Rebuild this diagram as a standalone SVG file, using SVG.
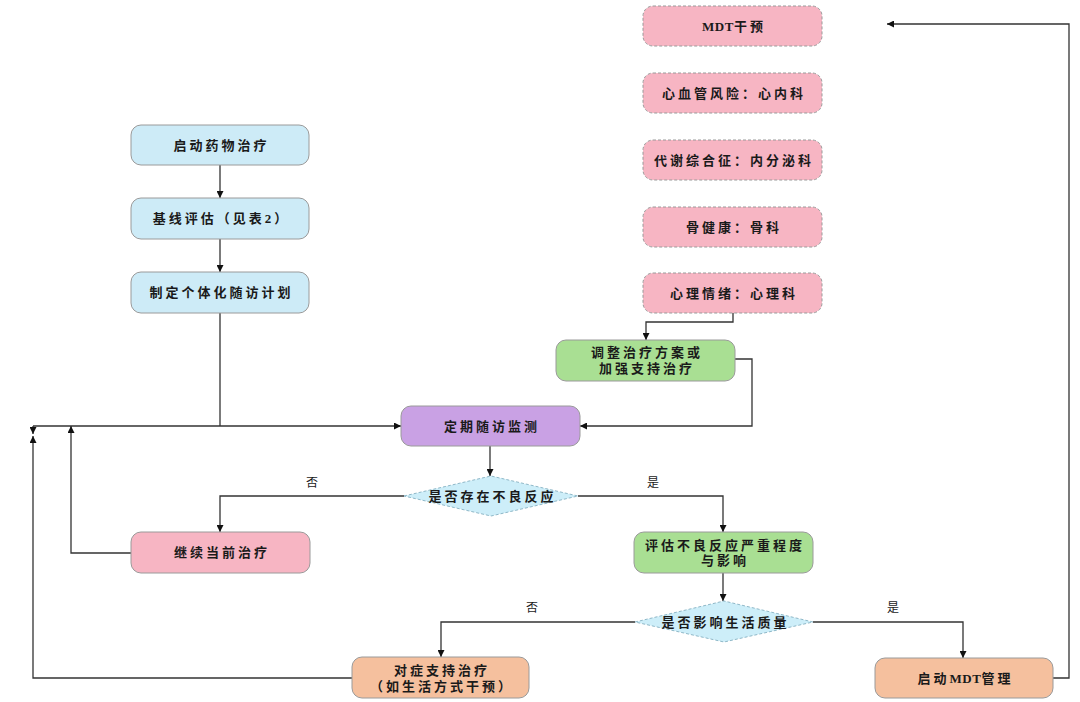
<svg xmlns="http://www.w3.org/2000/svg" width="1080" height="702" viewBox="0 0 1080 702">
<defs>
<style>
.box{stroke:#9a9a9a;stroke-width:1}
.dash{stroke-dasharray:3 2}
.blue{fill:#CDEBF7}
.pink{fill:#F7B5C3}
.purple{fill:#C9A1E4}
.green{fill:#A9DF93}
.orange{fill:#F5C09E}
.dia{fill:#CDEEF9;stroke:#8fb8c8;stroke-width:1;stroke-dasharray:3 2}
text{font-family:"Liberation Serif","Noto Sans CJK SC",serif;font-weight:700;font-size:13px;letter-spacing:3px;fill:#1a1a1a;text-anchor:middle;dominant-baseline:central}
.lat{letter-spacing:0.5px}
.lbl{font-weight:400;font-size:12px;letter-spacing:0}
.ln{fill:none;stroke:#333;stroke-width:1.3}
</style>
<marker id="ah" viewBox="0 0 10 10" refX="10" refY="5" markerWidth="7" markerHeight="7" orient="auto" markerUnits="userSpaceOnUse">
<path d="M0,0 L10,5 L0,10 z" fill="#111"/>
</marker>
</defs>
<rect width="1080" height="702" fill="#fff"/>

<g id="connectors">
<path class="ln" d="M220,165 V198" marker-end="url(#ah)"/>
<path class="ln" d="M220,239 V272" marker-end="url(#ah)"/>
<path class="ln" d="M220,313 V426"/>
<path class="ln" d="M33,426 H401" marker-end="url(#ah)"/>
<path class="ln" d="M33,426 V434" marker-end="url(#ah)"/>
<path class="ln" d="M352,678 H33 V436" marker-end="url(#ah)"/>
<path class="ln" d="M131,553 H71 V426" marker-end="url(#ah)"/>
<path class="ln" d="M733,313 V322 H646 V340" marker-end="url(#ah)"/>
<path class="ln" d="M735,359 H752 V426 H580" marker-end="url(#ah)"/>
<path class="ln" d="M490,446 V476" marker-end="url(#ah)"/>
<path class="ln" d="M404,496 H220 V532" marker-end="url(#ah)"/>
<path class="ln" d="M578,496 H723 V532" marker-end="url(#ah)"/>
<path class="ln" d="M723,573 V601" marker-end="url(#ah)"/>
<path class="ln" d="M635,622 H441 V657" marker-end="url(#ah)"/>
<path class="ln" d="M813,622 H963 V658" marker-end="url(#ah)"/>
<path class="ln" d="M1053,678 H1069 V24 H887" marker-end="url(#ah)"/>
<text class="lbl" x="312" y="483">否</text>
<text class="lbl" x="653" y="483">是</text>
<text class="lbl" x="532" y="608">否</text>
<text class="lbl" x="893" y="608">是</text>
</g>

<g id="n-mdt-intervene"><rect class="box dash pink" x="643" y="6" width="179" height="40" rx="10"/><text x="734" y="26"><tspan class="lat">MDT</tspan>干预</text></g>
<g id="n-cardio"><rect class="box dash pink" x="643" y="73" width="179" height="40" rx="10"/><text x="734" y="93">心血管风险：心内科</text></g>
<g id="n-metab"><rect class="box dash pink" x="643" y="140" width="179" height="40" rx="10"/><text x="734" y="160">代谢综合征：内分泌科</text></g>
<g id="n-bone"><rect class="box dash pink" x="643" y="207" width="179" height="40" rx="10"/><text x="734" y="227">骨健康：骨科</text></g>
<g id="n-psych"><rect class="box dash pink" x="643" y="273" width="179" height="40" rx="10"/><text x="734" y="293">心理情绪：心理科</text></g>

<g id="n-start"><rect class="box blue" x="131" y="125" width="178" height="40" rx="10"/><text x="221.5" y="145">启动药物治疗</text></g>
<g id="n-baseline"><rect class="box blue" x="131" y="198" width="178" height="41" rx="10"/><text x="221.5" y="218.5">基线评估（见表2）</text></g>
<g id="n-plan"><rect class="box blue" x="131" y="272" width="178" height="41" rx="10"/><text x="221.5" y="292.5">制定个体化随访计划</text></g>

<g id="n-adjust"><rect class="box green" x="556" y="340" width="179" height="41" rx="10"/><text x="647" y="352">调整治疗方案或</text><text x="647" y="368">加强支持治疗</text></g>
<g id="n-monitor"><rect class="box purple" x="401" y="406" width="179" height="40" rx="10"/><text x="492" y="426">定期随访监测</text></g>
<g id="n-d1"><polygon class="dia" points="404,496 491,476 578,496 491,516"/><text x="492.5" y="496">是否存在不良反应</text></g>
<g id="n-continue"><rect class="box pink" x="131" y="532" width="179" height="41" rx="10"/><text x="222" y="552.5">继续当前治疗</text></g>
<g id="n-evaluate"><rect class="box green" x="634" y="532" width="179" height="41" rx="10"/><text x="725" y="545">评估不良反应严重程度</text><text x="725" y="560">与影响</text></g>
<g id="n-d2"><polygon class="dia" points="635,622 724,601 813,622 724,642"/><text x="725.5" y="622">是否影响生活质量</text></g>
<g id="n-symptom"><rect class="box orange" x="352" y="657" width="177" height="41" rx="10"/><text x="442" y="670">对症支持治疗</text><text x="442" y="686">（如生活方式干预）</text></g>
<g id="n-mdt"><rect class="box orange" x="875" y="658" width="178" height="40" rx="10"/><text x="965.5" y="678">启动<tspan class="lat">MDT</tspan>管理</text></g>
</svg>
